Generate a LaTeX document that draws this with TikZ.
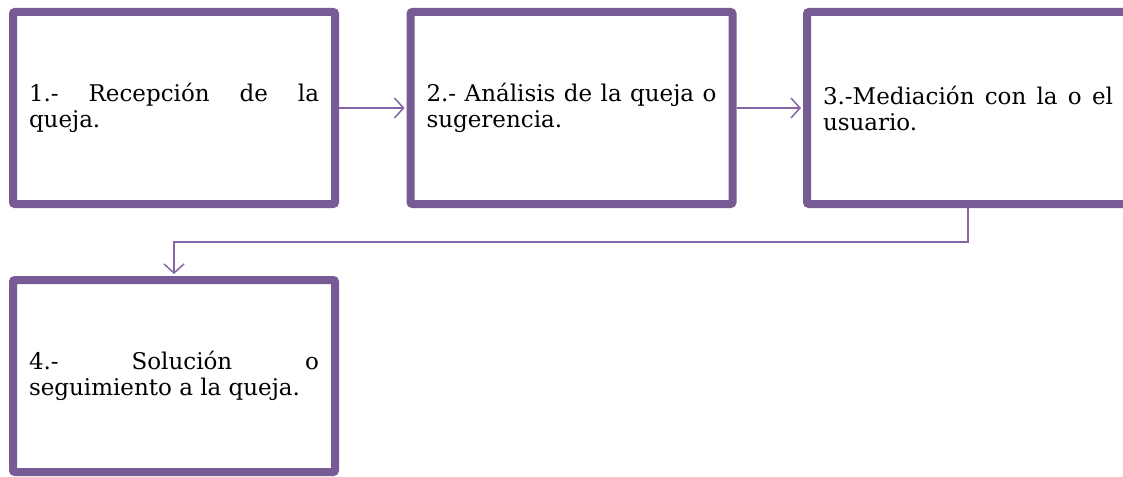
\documentclass[tikz,border=0pt]{standalone}
\usepackage{fontspec}
\setmainfont{DejaVu Serif}
\usetikzlibrary{arrows.meta,shadows}
\definecolor{boxline}{HTML}{775B94}
\definecolor{linkline}{HTML}{8466A6}
\begin{document}
\begin{tikzpicture}[x=1pt,y=-1pt,
    stepbox/.style={draw=boxline,line width=8pt,fill=white,rounded corners=2pt,
        minimum width=322pt,minimum height=192pt,text width=290pt,align=justify,
        inner sep=0pt,font=\fontsize{23}{26}\selectfont,
        drop shadow={shadow xshift=2pt,shadow yshift=-3pt,opacity=0.3,fill=black}},
    link/.style={draw=linkline,line width=1.5pt,
        -{Straight Barb[length=9pt,width=20pt,line width=1.5pt]},shorten >=2pt}]
    \useasboundingbox (0,0) rectangle (1123,476);
    \node[stepbox] (recepcion) at (174,108) {1.- Recepción de la\linebreak queja.};
    \node[stepbox] (analisis) at (571.5,108) {2.- Análisis de la queja o\linebreak sugerencia.};
    \node[stepbox] (mediacion) at (968,108) {3.-Mediación con la o el\linebreak usuario.};
    \node[stepbox] (solucion) at (174,376) {4.- Solución o\linebreak seguimiento a la queja.};
    \coordinate (bend) at (968,242);
    \draw[link] (recepcion) -- (analisis);
    \draw[link] (analisis) -- (mediacion);
    \draw[link] (mediacion.south) -- (bend) -| (solucion.north);
\end{tikzpicture}
\end{document}
